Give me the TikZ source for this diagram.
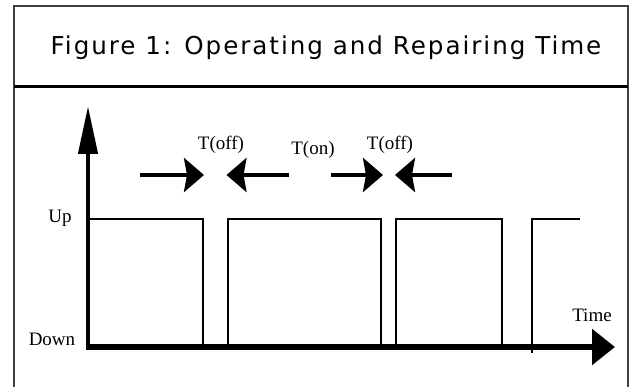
\documentclass[tikz,border=0pt]{standalone}
\usepackage{fontspec}
\setmainfont{Liberation Serif}
\newfontfamily\titlefont[LetterSpace=8]{DejaVu Sans}
\usetikzlibrary{arrows.meta,calc}

\tikzset{
  frameline/.style={draw=black!75, line width=1.4pt},
  sepline/.style={draw=black, line width=2.4pt},
  axisline/.style={draw=black, line width=6pt},
  signal/.style={draw=black, line width=2pt, line join=miter},
  gaparrow/.style={draw=black, line width=4pt,
    -{Stealth[length=20pt, width=34pt, inset=3pt]}},
  lbl/.style={font=\fontsize{19}{19}\selectfont, inner sep=0pt, anchor=base},
  titletext/.style={font=\titlefont\fontsize{24.6}{26}\selectfont, inner sep=0pt, anchor=base}
}

\begin{document}
\begin{tikzpicture}[x=1pt, y=-1pt]
  \useasboundingbox (0,0) rectangle (632,387);
  \begin{scope}
    \clip (0,0) rectangle (632,387);
    % outer frame (open at the bottom) and title separator
    \coordinate (fbl) at (14,400);
    \coordinate (ftl) at (14,6);
    \coordinate (ftr) at (628,6);
    \coordinate (fbr) at (628,400);
    \draw[frameline] (fbl) -- (ftl) -- (ftr) -- (fbr);
    \coordinate (sepL) at (14,86.5);
    \coordinate (sepR) at (628,86.5);
    \draw[sepline] (sepL) -- (sepR);
  \end{scope}

  % title
  \node[titletext] (title) at (326,55) {Figure 1: Operating and Repairing Time};

  % axes
  \coordinate (origin) at (88,347);
  \coordinate (ytip) at (88,106);
  \coordinate (xtip) at (615,347);
  \draw[draw=black, line width=4.5pt, -{Triangle[length=48pt, width=19pt]}]
    ($(origin)+(0,3)$) -- (ytip);
  \draw[axisline, -{Triangle[length=23pt, width=35pt]}] ($(origin)+(-2.25,0)$) -- (xtip);

  % up/down signal
  \draw[signal] (90,219) -- (202.7,219) -- (202.7,347);
  \draw[signal] (228,347) -- (228,219) -- (381,219) -- (381,347);
  \draw[signal] (396,347) -- (396,219) -- (502,219) -- (502,347);
  \draw[signal] (532,353) -- (532,219) -- (580,219);

  % axis labels
  \node[lbl] (up) at (60,223) {Up};
  \node[lbl] (down) at (52,345.7) {Down};
  \node[lbl] (time) at (592,321.5) {Time};

  % interval labels
  \node[lbl] (toff1) at (221,150) {T(off)};
  \node[lbl] (ton) at (313,155) {T(on)};
  \node[lbl] (toff2) at (390,150) {T(off)};

  % interval markers
  \coordinate (a1s) at (140,175);
  \coordinate (a1e) at (204,175);
  \coordinate (a2s) at (289,175);
  \coordinate (a2e) at (226.5,175);
  \coordinate (a3s) at (331,175);
  \coordinate (a3e) at (383,175);
  \coordinate (a4s) at (452,175);
  \coordinate (a4e) at (395,175);
  \draw[gaparrow] (a1s) -- (a1e);
  \draw[gaparrow] (a2s) -- (a2e);
  \draw[gaparrow] (a3s) -- (a3e);
  \draw[gaparrow] (a4s) -- (a4e);
\end{tikzpicture}
\end{document}
